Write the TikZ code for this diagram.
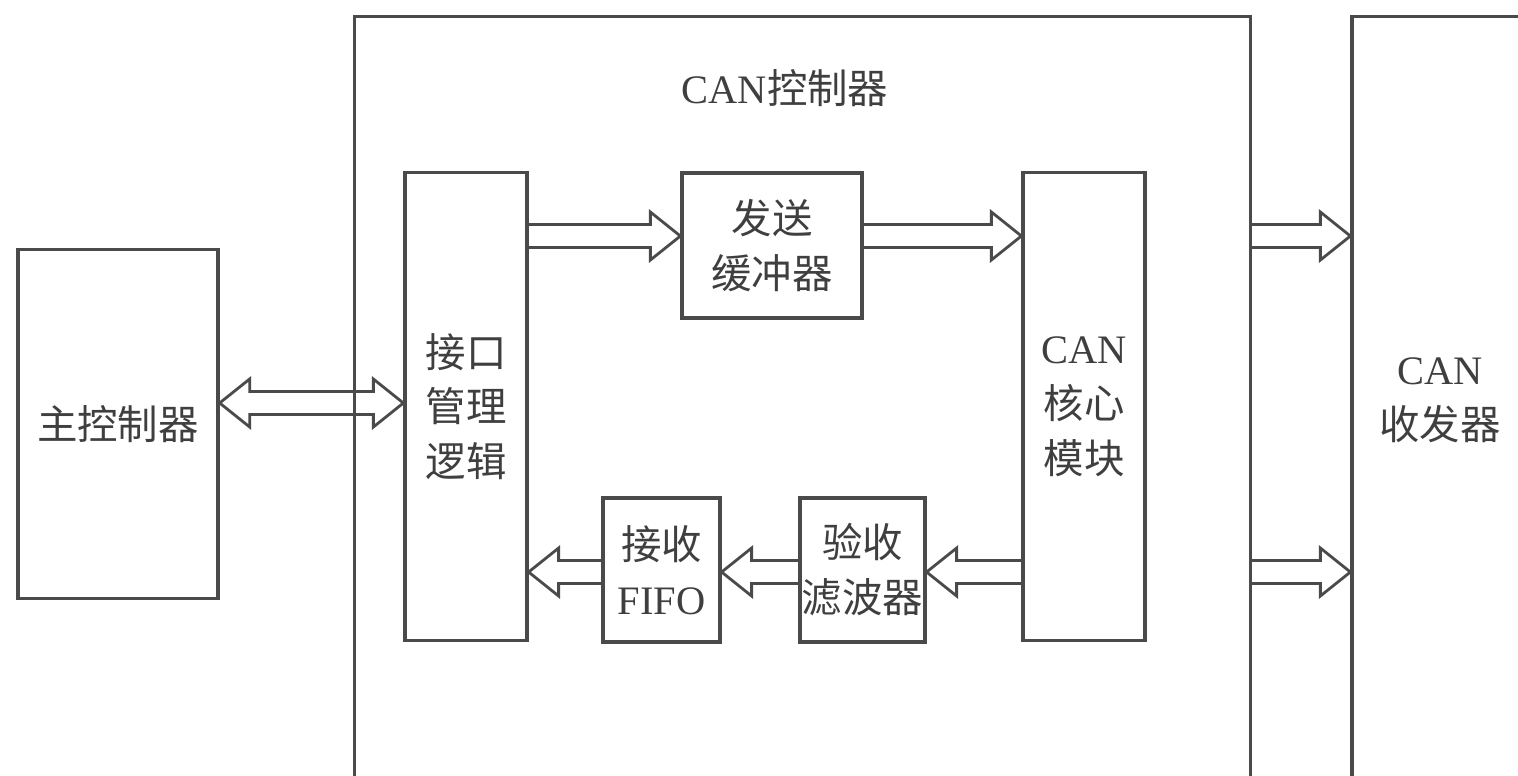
\documentclass[tikz,border=0pt]{standalone}
\usepackage{fontspec}
\setmainfont{Liberation Serif}
\newfontfamily\cjk{Noto Sans CJK SC}
\newcommand{\zh}[1]{{\cjk #1}}
\usetikzlibrary{calc}
\definecolor{ink}{HTML}{4A4A4A}

\begin{document}
\begin{tikzpicture}[
    x=0.01cm, y=-0.01cm,
    every node/.style={font=\fontsize{11.5}{15.6}\selectfont, text=ink!85!black, align=center},
    block/.style={rectangle, draw=ink, line width=0.9pt, inner sep=0pt, align=center},
    fat/.style={draw=ink, line width=0.8pt, line join=miter,
        to path={let \p1=(\tikztostart), \p2=(\tikztotarget),
            \p3=($(\tikztotarget)!0.3cm!(\tikztostart)$) in
            (\x1,\y1+0.115cm) -- (\x3,\y1+0.115cm) -- (\x3,\y1+0.24cm) -- (\x2,\y1)
            -- (\x3,\y1-0.24cm) -- (\x3,\y1-0.115cm) -- (\x1,\y1-0.115cm)}},
    fatboth/.style={draw=ink, line width=0.8pt, line join=miter,
        to path={let \p1=(\tikztostart), \p2=(\tikztotarget),
            \p3=($(\tikztotarget)!0.3cm!(\tikztostart)$),
            \p4=($(\tikztostart)!0.3cm!(\tikztotarget)$) in
            (\x4,\y1+0.115cm) -- (\x3,\y1+0.115cm) -- (\x3,\y1+0.24cm) -- (\x2,\y1)
            -- (\x3,\y1-0.24cm) -- (\x3,\y1-0.115cm) -- (\x4,\y1-0.115cm)
            -- (\x4,\y1-0.24cm) -- (\x1,\y1) -- (\x4,\y1+0.24cm) -- cycle}}
]
\useasboundingbox (0,0) rectangle (1518,775);

% ---- outer boxes (open at page edge) ----
\node[block, minimum width=8.95cm, minimum height=8.03cm] (ctrl) at (802.5,418.5) {};
\node[block, minimum width=2.28cm, minimum height=8.03cm] (xcvr) at (1466,418.5) {};
\node (ctrllbl) at (785,88) {CAN\zh{控制器}};
\node (xcvrlbl) at (1440,400) {CAN\\\zh{收发器}};

% ---- blocks ----
\node[block, minimum width=2.00cm, minimum height=3.48cm] (host)   at (118,424)    {\zh{主控制器}};
\node[block, minimum width=1.22cm, minimum height=4.67cm] (iface)  at (466,406.5)  {\zh{接口}\\\zh{管理}\\\zh{逻辑}};
\node[block, minimum width=1.80cm, minimum height=1.45cm] (txbuf)  at (772,245.5)  {\zh{发送}\\\zh{缓冲器}};
\node[block, minimum width=1.22cm, minimum height=4.67cm] (core)   at (1084,406.5) {CAN\\\zh{核心}\\\zh{模块}};
\node[block, minimum width=1.17cm, minimum height=1.44cm] (rxfifo) at (661.5,570)  {\zh{接收}\\FIFO};
\node[block, minimum width=1.25cm, minimum height=1.44cm] (filter) at (862.5,570)  {\zh{验收}\\\zh{滤波器}};

% ---- rows of the bus arrows ----
\coordinate (hostrow) at (0,403);
\coordinate (txrow)   at (0,236);
\coordinate (rxrow)   at (0,572);

% ---- send path ----
\draw[fatboth] (host.east |- hostrow) to (iface.west |- hostrow);
\draw[fat] (iface.east |- txrow) to (txbuf.west |- txrow);
\draw[fat] (txbuf.east |- txrow) to (core.west |- txrow);
\draw[fat] (ctrl.east |- txrow) to (xcvr.west |- txrow);

% ---- receive path ----
\draw[fat] (ctrl.east |- rxrow) to (xcvr.west |- rxrow);
\draw[fat] (core.west |- rxrow) to (filter.east |- rxrow);
\draw[fat] (filter.west |- rxrow) to (rxfifo.east |- rxrow);
\draw[fat] (rxfifo.west |- rxrow) to (iface.east |- rxrow);

\end{tikzpicture}
\end{document}
